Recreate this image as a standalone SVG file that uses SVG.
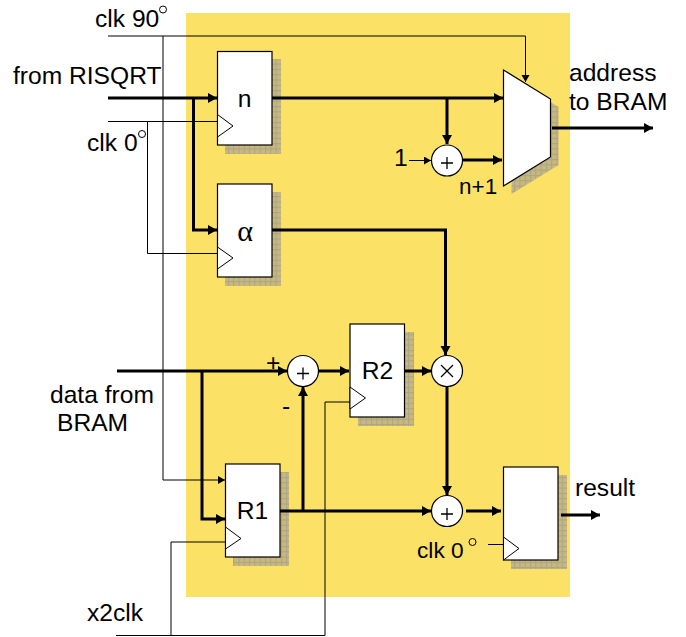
<svg xmlns="http://www.w3.org/2000/svg" width="686" height="637" viewBox="0 0 686 637">
<style>
text{font-family:"Liberation Sans",Arial,sans-serif;font-size:24.6px;fill:#000}
.t{fill:none;stroke:#000;stroke-width:1}
.w{fill:none;stroke:#000;stroke-width:3}
.a{fill:none;stroke:#000;stroke-width:3;marker-end:url(#ah)}
.b{fill:none;stroke:#000;stroke-width:1;marker-end:url(#al)}
.box{fill:#fff;stroke:#000;stroke-width:1.2}
.ck{fill:#fff;stroke:#000;stroke-width:1}
.sh{fill:url(#g);stroke:none}
.c{fill:#fff;stroke:#000;stroke-width:1.2}
.op{fill:none;stroke:#000;stroke-width:1.3}
</style>
<defs>
<pattern id="g" width="5.3" height="5.3" patternUnits="userSpaceOnUse"><rect width="5.3" height="5.3" fill="#c9b878"/><path d="M0 .5H5.3M.5 0V5.3" stroke="#a8a590" stroke-width="1"/></pattern>
<marker id="ah" markerUnits="userSpaceOnUse" markerWidth="11" markerHeight="11" refX="9" refY="5" orient="auto"><path d="M0 0L9 5L0 10Z"/></marker>
<marker id="al" markerUnits="userSpaceOnUse" markerWidth="11" markerHeight="11" refX="7" refY="4" orient="auto"><path d="M0 0L7 4L0 8Z"/></marker>
</defs>
<rect x="186" y="13" width="384" height="584" fill="#fbe166"/>
<g id="reg-n"><rect class="sh" x="225" y="59" width="56" height="95"/><rect class="box" x="217.500" y="51.500" width="54.500" height="93.500"/><path class="ck" d="M217.500 114.500L233 126L217.500 137Z"/><text x="244.500" y="107" text-anchor="middle">n</text></g>
<g id="reg-alpha"><rect class="sh" x="225" y="192" width="56" height="94"/><rect class="box" x="217.500" y="184" width="54.500" height="93"/><path class="ck" d="M217.500 247L233 258L217.500 269Z"/><text x="245" y="240.500" text-anchor="middle" style="font-family:'Liberation Serif',serif;font-size:30px">α</text></g>
<g id="reg-r2"><rect class="sh" x="358" y="332" width="56" height="94"/><rect class="box" x="350" y="324" width="54.500" height="93"/><path class="ck" d="M350 387L365.500 398L350 409Z"/><text x="377.500" y="379" text-anchor="middle">R2</text></g>
<g id="reg-r1"><rect class="sh" x="233" y="472" width="56" height="94"/><rect class="box" x="225.500" y="464" width="54.500" height="93"/><path class="ck" d="M225.500 527L241 538.500L225.500 549Z"/><text x="252.500" y="519" text-anchor="middle">R1</text></g>
<g id="reg-out"><rect class="sh" x="511" y="475" width="56" height="94"/><rect class="box" x="503.500" y="467" width="54.500" height="93"/><path class="ck" d="M503.500 537L519 548.500L503.500 560Z"/></g>
<g id="mux"><path class="sh" d="M511.500 78L558.500 107V165L511.500 194Z"/><path class="box" d="M503.500 70L550.500 99V157L503.500 186Z"/></g>
<g id="add-top"><circle class="c" cx="447" cy="160.500" r="15.500"/><path class="op" d="M441 163H453M447 157V169"/></g>
<g id="add-mid"><circle class="c" cx="303" cy="371" r="15.500"/><path class="op" d="M297 373.500H309M303 367.500V379.500"/></g>
<g id="mul"><circle class="c" cx="447" cy="371" r="15.500"/><path class="op" d="M441 365L453 377M453 365L441 377"/></g>
<g id="add-bot"><circle class="c" cx="447" cy="511" r="15.500"/><path class="op" d="M441 514H453M447 508V520"/></g>
<g id="connectors">
<path class="b" d="M108 36H525.500V82"/>
<path class="b" d="M163 36V480H225"/>
<path class="t" d="M108 121.500H218M147.500 121.500V253.500H218"/>
<path class="a" d="M108 98H217"/>
<path class="a" d="M193.500 98V230H217"/>
<path class="a" d="M272 98H503"/>
<path class="a" d="M447 98V144"/>
<path class="a" d="M463 160H502"/>
<path class="b" d="M409 160.500H431"/>
<path class="a" d="M552 128H653"/>
<path class="a" d="M272 230H445.500V355"/>
<path class="a" d="M117 371H287"/>
<path class="a" d="M202 371V519H225"/>
<path class="a" d="M303 511V387"/>
<path class="a" d="M280 511H431"/>
<path class="a" d="M319 371H349"/>
<path class="a" d="M405 371H431"/>
<path class="a" d="M447 387V495"/>
<path class="a" d="M466 511H501"/>
<path class="a" d="M561 515H600"/>
<path class="t" d="M488 544.500H504"/>
<path class="t" d="M116 635.500H325V402H350"/>
<path class="t" d="M171 635.500V542H226"/>
</g>
<g id="labels">
<text x="95" y="27">clk 90</text><circle class="t" cx="163" cy="9.500" r="3.500"/>
<text x="13" y="84">from RISQRT</text>
<text x="87" y="151">clk 0</text><circle class="t" cx="142" cy="134" r="3.500"/>
<text x="569" y="81">address</text>
<text x="569" y="110">to BRAM</text>
<text x="394" y="166">1</text>
<text x="459" y="194" style="font-size:22.500px">n+1</text>
<text x="266" y="371">+</text>
<text x="282" y="414">-</text>
<text x="50" y="403">data from</text>
<text x="57" y="431">BRAM</text>
<text x="575" y="496">result</text>
<text x="417" y="558" style="font-size:22.700px">clk 0</text><circle class="t" cx="472.500" cy="542" r="3.500"/>
<text x="87" y="621">x2clk</text>
</g>
</svg>
